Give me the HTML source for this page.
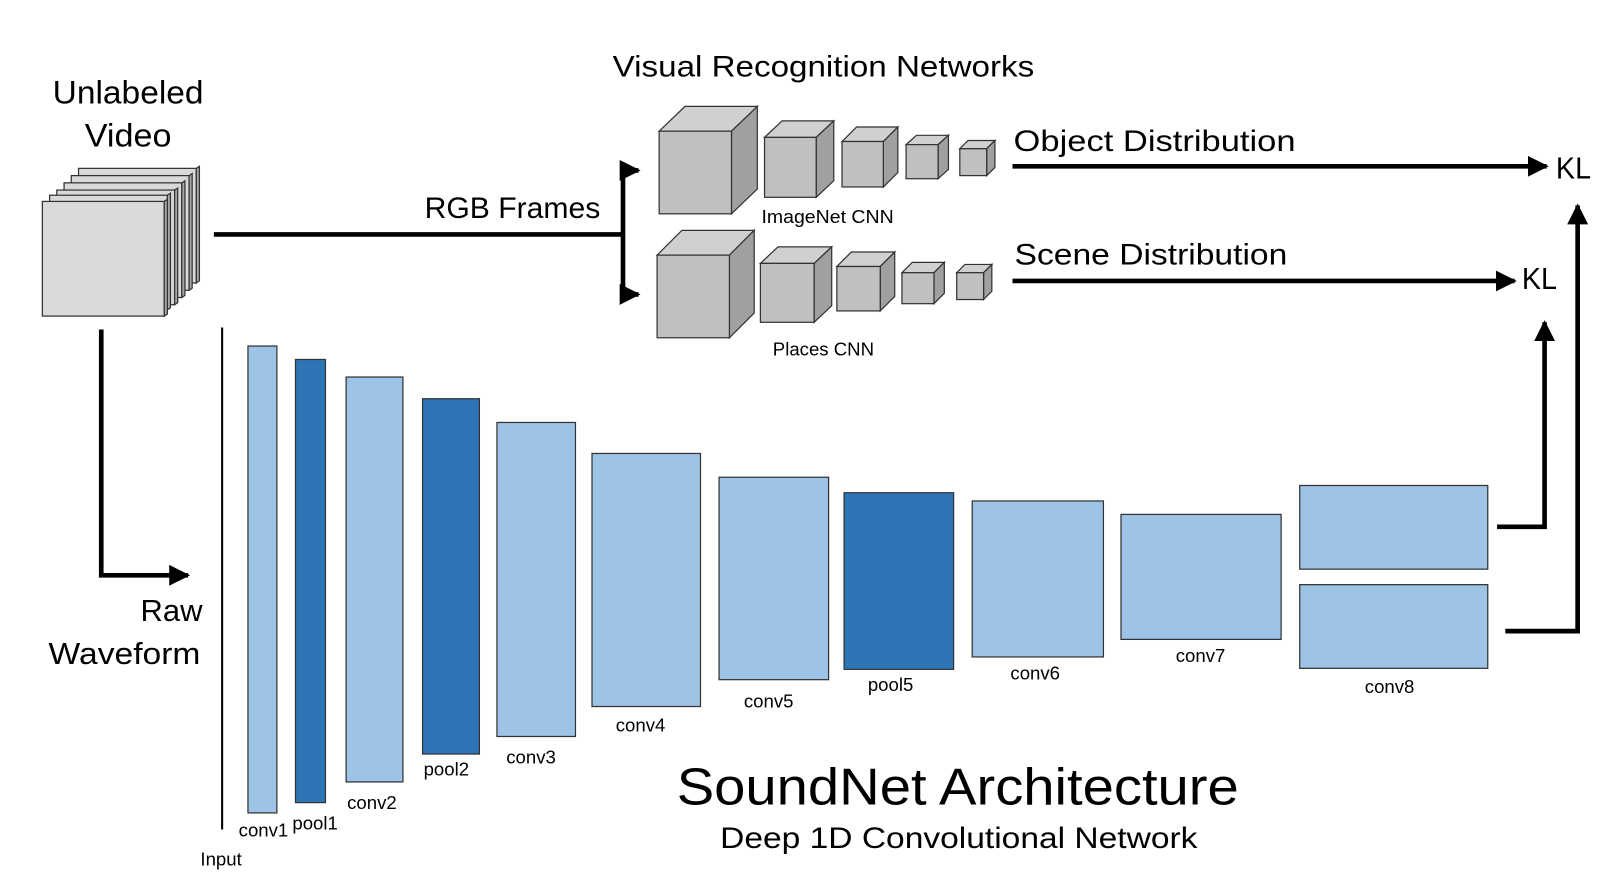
<!DOCTYPE html>
<html><head><meta charset="utf-8"><style>html,body{margin:0;padding:0;background:#fff}svg{display:block}text{font-family:"Liberation Sans",sans-serif;fill:#000}</style></head>
<body>
<svg width="1620" height="878" viewBox="0 0 1568 850" preserveAspectRatio="none" xmlns="http://www.w3.org/2000/svg">
<defs>
<marker id="ah" viewBox="0 0 10 10" refX="9" refY="5" markerWidth="4.5" markerHeight="4.5" orient="auto" markerUnits="strokeWidth"><path d="M0,0L10,5L0,10z" fill="#000"/></marker>
</defs>
<g stroke="#333" stroke-width="1.2" fill="#d9d9d9">
<rect x="76" y="163" width="114" height="111"/><polygon points="190,163 193,161 193,272 190,274" fill="#a6a6a6"/>
<rect x="69" y="170" width="114" height="111"/><polygon points="183,170 186,168 186,279 183,281" fill="#a6a6a6"/>
<rect x="62" y="177" width="114" height="111"/><polygon points="176,177 179,175 179,286 176,288" fill="#a6a6a6"/>
<rect x="55" y="184" width="114" height="111"/><polygon points="169,184 172,182 172,293 169,295" fill="#a6a6a6"/>
<rect x="48" y="189" width="114" height="111"/><polygon points="162,189 165,187 165,298 162,300" fill="#a6a6a6"/>
<rect x="41" y="195" width="118" height="111"/><polygon points="159,195 162,193 162,304 159,306" fill="#a6a6a6"/>
</g>
<g stroke="#333" stroke-width="1.2">
<polygon points="638,127 663,103 733,103 708,127" fill="#d0d0d0"/><polygon points="708,127 733,103 733,183 708,207" fill="#a0a0a0"/><rect x="638" y="127" width="70" height="80" fill="#c0c0c0"/>
<polygon points="740,133 757,117 807,117 790,133" fill="#d0d0d0"/><polygon points="790,133 807,117 807,175 790,191" fill="#a0a0a0"/><rect x="740" y="133" width="50" height="58" fill="#c0c0c0"/>
<polygon points="815,137 829,123 869,123 855,137" fill="#d0d0d0"/><polygon points="855,137 869,123 869,167 855,181" fill="#a0a0a0"/><rect x="815" y="137" width="40" height="44" fill="#c0c0c0"/>
<polygon points="877,140 887,131 918,131 908,140" fill="#d0d0d0"/><polygon points="908,140 918,131 918,164 908,173" fill="#a0a0a0"/><rect x="877" y="140" width="31" height="33" fill="#c0c0c0"/>
<polygon points="929,144 937,136 963,136 955,144" fill="#d0d0d0"/><polygon points="955,144 963,136 963,162 955,170" fill="#a0a0a0"/><rect x="929" y="144" width="26" height="26" fill="#c0c0c0"/>
<polygon points="636,247 660,223 730,223 706,247" fill="#d0d0d0"/><polygon points="706,247 730,223 730,303 706,327" fill="#a0a0a0"/><rect x="636" y="247" width="70" height="80" fill="#c0c0c0"/>
<polygon points="736,255 753,239 805,239 788,255" fill="#d0d0d0"/><polygon points="788,255 805,239 805,296 788,312" fill="#a0a0a0"/><rect x="736" y="255" width="52" height="57" fill="#c0c0c0"/>
<polygon points="810,258 824,244 866,244 852,258" fill="#d0d0d0"/><polygon points="852,258 866,244 866,287 852,301" fill="#a0a0a0"/><rect x="810" y="258" width="42" height="43" fill="#c0c0c0"/>
<polygon points="873,264 883,254 914,254 904,264" fill="#d0d0d0"/><polygon points="904,264 914,254 914,284 904,294" fill="#a0a0a0"/><rect x="873" y="264" width="31" height="30" fill="#c0c0c0"/>
<polygon points="926,264 934,256 960,256 952,264" fill="#d0d0d0"/><polygon points="952,264 960,256 960,282 952,290" fill="#a0a0a0"/><rect x="926" y="264" width="26" height="26" fill="#c0c0c0"/>
</g>
<g stroke="#333" stroke-width="1.2">
<rect x="240" y="335" width="28" height="452" fill="#9dc3e6"/>
<rect x="286" y="348" width="29" height="429" fill="#2e75b6"/>
<rect x="335" y="365" width="55" height="392" fill="#9dc3e6"/>
<rect x="409" y="386" width="55" height="344" fill="#2e75b6"/>
<rect x="481" y="409" width="76" height="304" fill="#9dc3e6"/>
<rect x="573" y="439" width="105" height="245" fill="#9dc3e6"/>
<rect x="696" y="462" width="106" height="196" fill="#9dc3e6"/>
<rect x="817" y="477" width="106" height="171" fill="#2e75b6"/>
<rect x="941" y="485" width="127" height="151" fill="#9dc3e6"/>
<rect x="1085" y="498" width="155" height="121" fill="#9dc3e6"/>
<rect x="1258" y="470" width="182" height="81" fill="#9dc3e6"/>
<rect x="1258" y="566" width="182" height="81" fill="#9dc3e6"/>
</g>
<line x1="215" y1="317" x2="215" y2="803" stroke="#000" stroke-width="2"/>
<g fill="none" stroke="#000" stroke-width="4.5">
<polyline points="98,319 98,557 182,557" marker-end="url(#ah)"/>
<line x1="207" y1="227" x2="603" y2="227"/>
<line x1="603" y1="165" x2="603" y2="285"/>
<line x1="601" y1="165" x2="618" y2="165" marker-end="url(#ah)"/>
<line x1="601" y1="285" x2="618" y2="285" marker-end="url(#ah)"/>
<line x1="980" y1="161" x2="1497" y2="161" marker-end="url(#ah)"/>
<line x1="980" y1="272" x2="1466" y2="272" marker-end="url(#ah)"/>
<polyline points="1449,510 1495,510 1495,312" marker-end="url(#ah)"/>
<polyline points="1457,611 1527,611 1527,199" marker-end="url(#ah)"/>
</g>
<text x="124" y="100" font-size="31" text-anchor="middle" textLength="146" lengthAdjust="spacingAndGlyphs">Unlabeled</text>
<text x="124" y="142" font-size="31" text-anchor="middle" textLength="84" lengthAdjust="spacingAndGlyphs">Video</text>
<text x="797" y="74" font-size="29" text-anchor="middle" textLength="408" lengthAdjust="spacingAndGlyphs">Visual Recognition Networks</text>
<text x="496" y="211" font-size="29" text-anchor="middle" textLength="170" lengthAdjust="spacingAndGlyphs">RGB Frames</text>
<text x="981" y="146" font-size="29" textLength="273" lengthAdjust="spacingAndGlyphs">Object Distribution</text>
<text x="982" y="256" font-size="29" textLength="264" lengthAdjust="spacingAndGlyphs">Scene Distribution</text>
<text x="1506" y="173" font-size="30" textLength="34" lengthAdjust="spacingAndGlyphs">KL</text>
<text x="1473" y="280" font-size="30" textLength="34" lengthAdjust="spacingAndGlyphs">KL</text>
<text x="801" y="216" font-size="18" text-anchor="middle" textLength="128" lengthAdjust="spacingAndGlyphs">ImageNet CNN</text>
<text x="797" y="344" font-size="18" text-anchor="middle" textLength="98" lengthAdjust="spacingAndGlyphs">Places CNN</text>
<text x="196" y="601" font-size="30" text-anchor="end" textLength="60" lengthAdjust="spacingAndGlyphs">Raw</text>
<text x="194" y="643" font-size="30" text-anchor="end" textLength="147" lengthAdjust="spacingAndGlyphs">Waveform</text>
<text x="927" y="779" font-size="50" text-anchor="middle" textLength="544" lengthAdjust="spacingAndGlyphs">SoundNet Architecture</text>
<text x="928" y="821" font-size="29" text-anchor="middle" textLength="462" lengthAdjust="spacingAndGlyphs">Deep 1D Convolutional Network</text>
<g font-size="18" text-anchor="middle">
<text x="255" y="810">conv1</text><text x="305" y="803">pool1</text><text x="360" y="783">conv2</text>
<text x="432" y="751">pool2</text><text x="514" y="739">conv3</text><text x="620" y="708">conv4</text>
<text x="744" y="685">conv5</text><text x="862" y="669">pool5</text><text x="1002" y="658">conv6</text>
<text x="1162" y="641">conv7</text><text x="1345" y="671">conv8</text><text x="214" y="838">Input</text>
</g>
</svg>
</body></html>
